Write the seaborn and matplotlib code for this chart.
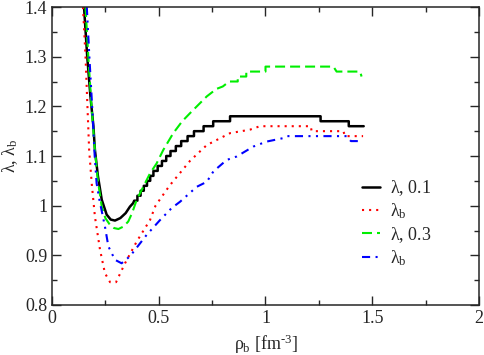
import numpy as np
import pandas as pd
import matplotlib
matplotlib.use("Agg")
import matplotlib.pyplot as plt
import seaborn as sns

# lambda, 0.1 : smooth part, then quantised stairs (level start x, level y)
black_x = [0.150, 0.165, 0.180, 0.194, 0.201, 0.215, 0.233, 0.256, 0.275, 0.295,
           0.320, 0.345, 0.365, 0.380]
black_y = [1.400, 1.300, 1.220, 1.160, 1.112, 1.060, 1.012, 0.982, 0.972, 0.970,
           0.975, 0.985, 0.998, 1.005]
black_lvl_x = [0.385, 0.400, 0.415, 0.430, 0.445, 0.460, 0.475, 0.495, 0.515, 0.535,
               0.555, 0.580, 0.605, 0.635, 0.665, 0.710, 0.755, 0.834, 1.258, 1.390]
black_lvl_y = [1.01, 1.02, 1.03, 1.04, 1.05, 1.06, 1.07, 1.08, 1.09, 1.10,
               1.11, 1.12, 1.13, 1.14, 1.15, 1.16, 1.17, 1.18, 1.17, 1.16]
black_end = 1.46

# lambda_b (first)
red_x = [0.145, 0.157, 0.166, 0.174, 0.186, 0.201, 0.225, 0.248, 0.272, 0.300,
         0.342, 0.397, 0.459, 0.485, 0.550, 0.646, 0.700, 0.725, 0.834, 0.927,
         0.974, 1.212, 1.216, 1.365, 1.372, 1.457]
red_y = [1.400, 1.300, 1.200, 1.112, 1.045, 0.978, 0.911, 0.864, 0.846, 0.846,
         0.884, 0.928, 0.971, 1.000, 1.040, 1.090, 1.112, 1.122, 1.146, 1.153,
         1.160, 1.160, 1.150, 1.150, 1.140, 1.140]

# lambda, 0.3
green_x = [0.157, 0.170, 0.185, 0.201, 0.215, 0.233, 0.250, 0.272, 0.290, 0.311,
           0.335, 0.357, 0.375, 0.397, 0.430, 0.459, 0.490, 0.521, 0.568, 0.610,
           0.646, 0.690, 0.725, 0.770, 0.800, 0.830, 0.870, 0.870, 0.910, 0.910,
           1.000, 1.000, 1.318, 1.333, 1.443, 1.450]
green_y = [1.400, 1.300, 1.200, 1.112, 1.050, 0.998, 0.975, 0.961, 0.955, 0.953,
           0.958, 0.968, 0.985, 1.012, 1.040, 1.065, 1.085, 1.112, 1.146, 1.170,
           1.186, 1.205, 1.220, 1.235, 1.240, 1.250, 1.250, 1.260, 1.260, 1.270,
           1.270, 1.280, 1.280, 1.270, 1.270, 1.260]

# lambda_b (second)
blue_x = [0.163, 0.175, 0.188, 0.200, 0.209, 0.222, 0.248, 0.264, 0.295, 0.326,
          0.365, 0.443, 0.506, 0.560, 0.600, 0.678, 0.725, 0.756, 0.818, 0.865,
          0.943, 1.005, 1.083, 1.100, 1.380, 1.400, 1.457]
blue_y = [1.400, 1.300, 1.200, 1.100, 1.045, 1.012, 0.958, 0.918, 0.891, 0.884,
          0.898, 0.941, 0.971, 0.995, 1.008, 1.038, 1.048, 1.069, 1.092, 1.099,
          1.119, 1.129, 1.136, 1.140, 1.140, 1.130, 1.130]

labels = [r"$\lambda$, 0.1", r"$\lambda_b$", r"$\lambda$, 0.3", r"$\lambda_b$"]


def stairs(lx, ly, x_end):
    xs, ys = [], []
    nxt = lx[1:] + [x_end]
    for x0, x1, y in zip(lx, nxt, ly):
        xs += [x0, x1]
        ys += [y, y]
    return xs, ys


sx, sy = stairs(black_lvl_x, black_lvl_y, black_end)
black_df = pd.DataFrame({"x": black_x + sx, "y": black_y + sy})
red_df = pd.DataFrame({"x": red_x, "y": red_y})
green_df = pd.DataFrame({"x": green_x, "y": green_y})
blue_df = pd.DataFrame({"x": blue_x, "y": blue_y})

sns.set_style("ticks")
plt.rcParams["font.family"] = ["Liberation Serif", "DejaVu Serif"]
plt.rcParams["mathtext.fontset"] = "custom"
plt.rcParams["mathtext.rm"] = "Liberation Serif"
plt.rcParams["mathtext.it"] = "Liberation Serif"
plt.rcParams["mathtext.bf"] = "Liberation Serif"
plt.rcParams["font.size"] = 13

fig, ax = plt.subplots(figsize=(4.85, 3.55), dpi=100)
fig.subplots_adjust(left=52 / 485, right=479 / 485, top=1 - 7 / 355, bottom=1 - 305 / 355)

styles = [
    (black_df, "black", "-", 1.8),
    (red_df, "#ff0000", (0, (1, 2.4)), 1.5),
    (green_df, "#00ee00", (0, (4.8, 2.4)), 1.5),
    (blue_df, "#0000ff", (0, (3.9, 2.6, 1, 2.6, 1, 2.6)), 1.5),
]
for (df, col, ls, lw), lab in zip(styles, labels):
    sns.lineplot(data=df, x="x", y="y", ax=ax, color=col, linestyle=ls, linewidth=lw,
                 estimator=None, sort=False, label=lab)

ax.set_xlim(0, 2)
ax.set_ylim(0.8, 1.4)
ax.set_xticks([0, 0.5, 1, 1.5, 2])
ax.set_xticklabels(["0", "0.5", "1", "1.5", "2"])
ax.set_xticks(np.arange(0, 2.01, 0.25), minor=True)
ax.set_yticks([0.8, 0.9, 1.0, 1.1, 1.2, 1.3, 1.4])
ax.set_yticklabels(["0.8", "0.9", "1", "1.1", "1.2", "1.3", "1.4"])
ax.set_yticks(np.arange(0.8, 1.401, 0.05), minor=True)
ax.tick_params(which="both", direction="in", top=True, right=True, labelsize=13, width=1)
ax.tick_params(which="major", length=6.5)
ax.tick_params(which="minor", length=3.5)
for sp in ax.spines.values():
    sp.set_linewidth(1.1)

ax.set_xlabel(r"$\rho_b$ [fm$^{\text{-3}}$]", fontsize=13, labelpad=4)
ax.set_ylabel(r"$\lambda$, $\lambda_b$", fontsize=13, labelpad=3)

ax.legend(loc="center left", bbox_to_anchor=(0.705, 0.275), frameon=False,
          fontsize=13, handlelength=1.0, handletextpad=0.55, labelspacing=0.2,
          borderpad=0)

fig.savefig("out.png", dpi=100)
